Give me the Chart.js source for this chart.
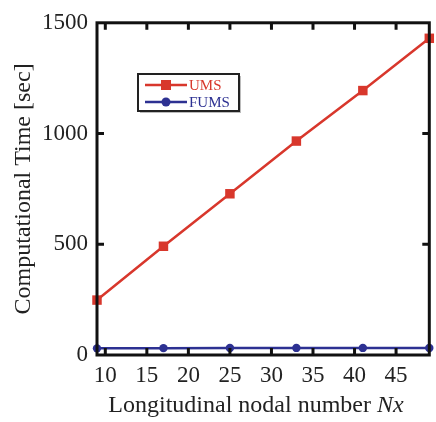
<!DOCTYPE html>
<html>
<head>
<meta charset="utf-8">
<script src="https://cdn.jsdelivr.net/npm/chart.js@4"></script>
<style>
  html, body { margin: 0; padding: 0; background: #fff; }
  #wrap { width: 436px; height: 422px; }
</style>
</head>
<body>
<div id="wrap"><canvas id="timeChart" width="436" height="422"></canvas></div>
<script>
// values
const nx = [9, 17, 25, 33, 41, 49];
const umsTime = [248, 491, 728, 966, 1194, 1430];
const fumsTime = [30, 31, 32, 32, 32, 32];
const xTicks = [10, 15, 20, 25, 30, 35, 40, 45];
const yTicks = [0, 500, 1000, 1500];

const RED = "#d8372c";
const BLUE = "#2d3192";
const FONT = "'Liberation Serif', 'Times New Roman', serif";

// inward ticks on all four sides, closed frame, boxed legend, x title with italic Nx
const framePlugin = {
  id: "frame",
  afterDatasetsDraw(chart) {
    const { ctx, chartArea: a, scales } = chart;
    ctx.save();
    ctx.strokeStyle = "#111";
    ctx.lineWidth = 3;
    ctx.beginPath();
    xTicks.forEach((v) => {
      const x = scales.x.getPixelForValue(v);
      ctx.moveTo(x, a.bottom); ctx.lineTo(x, a.bottom - 7);
      ctx.moveTo(x, a.top); ctx.lineTo(x, a.top + 7);
    });
    yTicks.slice(1, -1).forEach((v) => {
      const y = scales.y.getPixelForValue(v);
      ctx.moveTo(a.left, y); ctx.lineTo(a.left + 7, y);
      ctx.moveTo(a.right, y); ctx.lineTo(a.right - 7, y);
    });
    ctx.stroke();
    ctx.strokeRect(a.left, a.top, a.right - a.left, a.bottom - a.top);

    // x axis title
    ctx.fillStyle = "#222";
    ctx.textBaseline = "alphabetic";
    const t1 = "Longitudinal nodal number ", t2 = "Nx";
    ctx.font = "24px " + FONT;
    const w1 = ctx.measureText(t1).width;
    ctx.font = "italic 24px " + FONT;
    const w2 = ctx.measureText(t2).width;
    const x0 = 256 - (w1 + w2) / 2;
    ctx.font = "24px " + FONT;
    ctx.fillText(t1, x0, 412);
    ctx.font = "italic 24px " + FONT;
    ctx.fillText(t2, x0 + w1, 412);

    // legend
    const bx = 138, by = 74, bw = 101, bh = 37;
    ctx.fillStyle = "#bbb";
    ctx.fillRect(bx + 2, by + 2, bw, bh);
    ctx.fillStyle = "#fff";
    ctx.fillRect(bx, by, bw, bh);
    ctx.lineWidth = 2;
    ctx.strokeStyle = "#222";
    ctx.strokeRect(bx, by, bw, bh);
    chart.data.datasets.forEach((ds, i) => {
      const y = by + 11 + i * 17;
      ctx.strokeStyle = ds.borderColor;
      ctx.lineWidth = 2.5;
      ctx.beginPath();
      ctx.moveTo(bx + 7, y); ctx.lineTo(bx + 49, y);
      ctx.stroke();
      ctx.fillStyle = ds.backgroundColor;
      ctx.beginPath();
      if (ds.pointStyle === "rect") ctx.rect(bx + 23, y - 5, 10, 10);
      else ctx.arc(bx + 28, y, 4.5, 0, Math.PI * 2);
      ctx.fill();
      ctx.font = "15px " + FONT;
      ctx.textBaseline = "middle";
      ctx.fillText(ds.label, bx + 51, y + 1);
    });
    ctx.restore();
  },
};

new Chart(document.getElementById("timeChart"), {
  type: "line",
  data: {
    datasets: [
      {
        label: "UMS",
        data: nx.map((x, i) => ({ x, y: umsTime[i] })),
        borderColor: RED,
        backgroundColor: RED,
        borderWidth: 2.5,
        pointStyle: "rect",
        pointRadius: 6.7,
        pointBorderWidth: 0,
        clip: false,
      },
      {
        label: "FUMS",
        data: nx.map((x, i) => ({ x, y: fumsTime[i] })),
        borderColor: BLUE,
        backgroundColor: BLUE,
        borderWidth: 2.5,
        pointStyle: "circle",
        pointRadius: 4.2,
        pointBorderWidth: 0,
        clip: false,
      },
    ],
  },
  options: {
    responsive: false,
    animation: false,
    layout: { padding: { top: 17, right: 3, left: 5, bottom: 0 } },
    plugins: { legend: { display: false }, tooltip: { enabled: false } },
    scales: {
      x: {
        type: "linear",
        min: 9,
        max: 49,
        afterBuildTicks: (s) => { s.ticks = xTicks.map((v) => ({ value: v })); },
        afterFit: (s) => { s.height = 67; },
        grid: { display: false, drawTicks: false },
        border: { display: false },
        ticks: {
          color: "#222",
          padding: 7,
          maxRotation: 0,
          callback: (v) => String(v),
          font: { family: FONT, size: 23 },
        },
      },
      y: {
        min: 0,
        max: 1500,
        afterBuildTicks: (s) => { s.ticks = yTicks.map((v) => ({ value: v })); },
        afterFit: (s) => { s.width = 92; },
        grid: { display: false, drawTicks: false },
        border: { display: false },
        ticks: {
          color: "#222",
          padding: 9,
          callback: (v) => String(v),
          font: { family: FONT, size: 23 },
        },
        title: {
          display: true,
          text: "Computational Time [sec]",
          color: "#222",
          padding: { bottom: 2 },
          font: { family: FONT, size: 24 },
        },
      },
    },
  },
  plugins: [framePlugin],
});
</script>
</body>
</html>
